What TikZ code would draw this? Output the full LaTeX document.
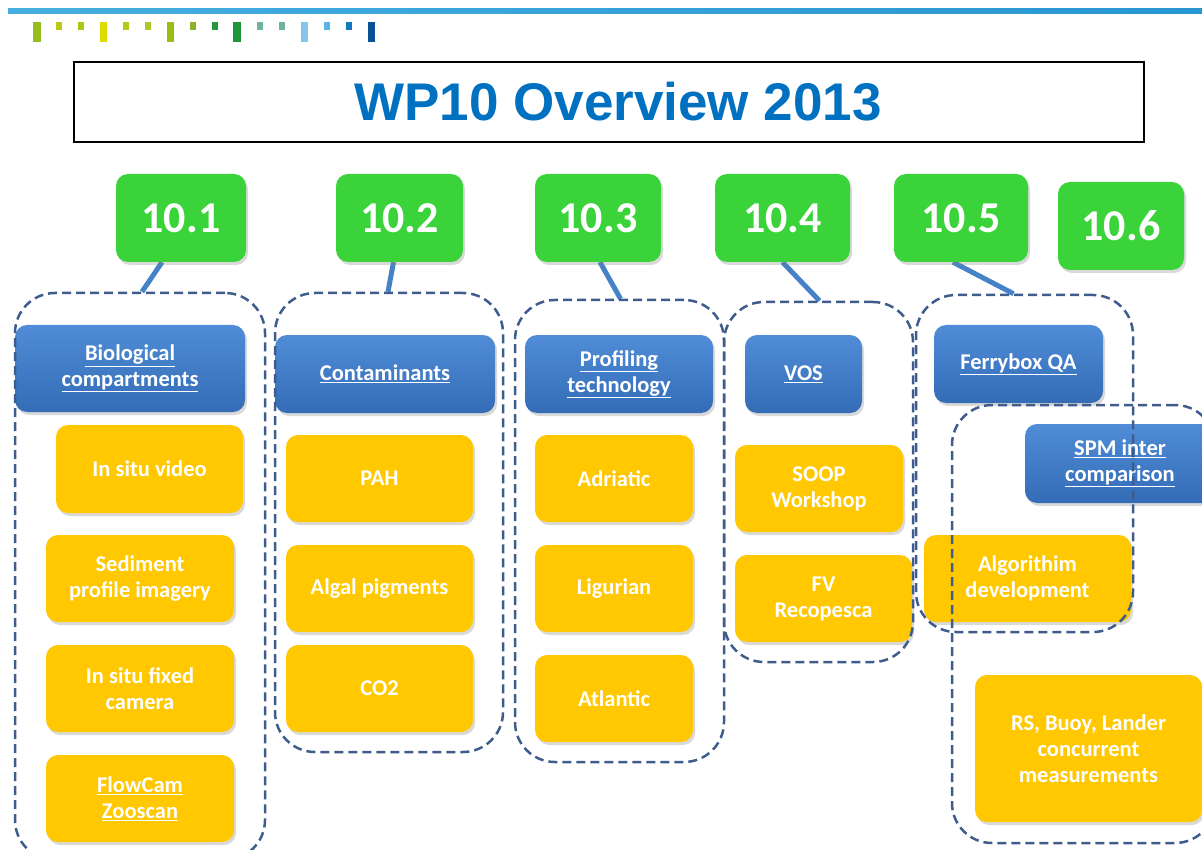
\documentclass[tikz,border=0pt]{standalone}
\usepackage{fontspec}
\setmainfont{Carlito}
\newfontfamily\titlefont{Liberation Sans}
\usetikzlibrary{shadows,backgrounds}

\definecolor{wpgreen}{RGB}{58,212,58}
\definecolor{wpblueT}{RGB}{80,140,215}
\definecolor{wpblueB}{RGB}{52,108,182}
\definecolor{wpyellow}{RGB}{255,200,0}
\definecolor{wpdash}{RGB}{62,92,140}
\definecolor{wplink}{RGB}{70,130,200}
\definecolor{wptitle}{RGB}{0,112,192}

\newcommand{\ul}[1]{\underline{#1}}

\tikzset{
  box/.style={rounded corners=12pt, inner sep=0pt, align=center, text=white,
    font=\bfseries\fontsize{22.5}{26}\selectfont,
    drop shadow={opacity=0.3, shadow xshift=2pt, shadow yshift=-3pt}},
  greenbox/.style={box, fill=wpgreen, minimum width=130pt, minimum height=88pt,
    font=\bfseries\fontsize{44}{44}\selectfont},
  bluebox/.style={box, top color=wpblueT, bottom color=wpblueB, minimum height=80pt},
  yellowbox/.style={box, fill=wpyellow, minimum height=88pt},
  grp/.style={draw=wpdash, line width=2.5pt, dash pattern=on 9pt off 5pt,
    rounded corners=40pt, inner sep=0pt},
  link/.style={draw=wplink, line width=5pt},
}

\begin{document}
\begin{tikzpicture}[x=1pt, y=-1pt]
    \useasboundingbox (0,0) rectangle (1202,850);

    % Header stripe and blocks
    \shade[left color={rgb,255:red,70;green,175;blue,225}, right color={rgb,255:red,40;green,150;blue,210}]
      (8,9) rectangle (1202,14);
    \foreach \xa/\xb/\yb/\r/\g/\b in {
      33/41/42/150/190/30, 56/62/30/190/200/20, 78/84/30/170/200/20,
      100/107/42/220/220/0, 123/129/30/180/200/30, 145/151/30/170/200/40,
      167/174/42/150/190/20, 190/196/30/140/180/40, 212/218/30/40/150/60,
      233/241/42/30/150/60, 257/263/30/110/180/150, 279/285/30/110/180/150,
      301/308/42/130/200/230, 324/330/30/90/180/230, 346/352/30/20/120/190,
      368/375/42/10/80/150}
      \fill[fill={rgb,255:red,\r;green,\g;blue,\b}] (\xa,22) rectangle (\xb,\yb);

    % Title
    \node[draw=black, line width=2pt, minimum width=1070pt, minimum height=80pt, inner sep=0pt,
      text=wptitle, font=\titlefont\bfseries\fontsize{53}{53}\selectfont] (title) at (609,102) {\hspace{18pt}WP10 Overview 2013};

    % Work package numbers
    \node[greenbox] (n101) at (181,218) {10.1};
    \node[greenbox, minimum width=127pt] (n102) at (399.5,218) {10.2};
    \node[greenbox, minimum width=126pt] (n103) at (598,218) {10.3};
    \node[greenbox, minimum width=135pt] (n104) at (782.5,218) {10.4};
    \node[greenbox, minimum width=134pt] (n105) at (961,218) {10.5};
    \node[greenbox, minimum width=126pt] (n106) at (1121,226) {10.6};

    % Task headers
    \node[bluebox, minimum width=230pt, minimum height=87pt] (bio) at (130,368.5) {\ul{Biological}\\\ul{compartments}};
    \node[bluebox, minimum width=220pt, minimum height=78pt] (cont) at (385,374) {\ul{Contaminants}};
    \node[bluebox, minimum width=188pt, minimum height=78pt] (prof) at (619,374) {\ul{Profiling}\\\ul{technology}};
    \node[bluebox, minimum width=117pt, minimum height=78pt] (vos) at (803.5,374) {\ul{VOS}};
    \node[bluebox, minimum width=169pt, minimum height=78pt] (ferry) at (1018.5,364) {\ul{Ferrybox QA}};
    \node[bluebox, minimum width=190pt, minimum height=79pt] (spm) at (1120,463.5) {\ul{SPM inter}\\\ul{comparison}};

    % Activities
    \node[yellowbox, minimum width=187pt] (video) at (149.5,469) {In situ video};
    \node[yellowbox, minimum width=188pt, minimum height=87pt] (sedi) at (140,578.5) {Sediment\\profile imagery};
    \node[yellowbox, minimum width=188pt, minimum height=87pt] (camera) at (140,688.5) {In situ fixed\\camera};
    \node[yellowbox, minimum width=188pt, minimum height=87pt] (flow) at (140,798.5) {\ul{FlowCam}\\\ul{Zooscan}};
    \node[yellowbox, minimum width=187pt, minimum height=87pt] (pah) at (379.5,478.5) {PAH};
    \node[yellowbox, minimum width=187pt, minimum height=87pt] (algal) at (379.5,588.5) {Algal pigments};
    \node[yellowbox, minimum width=187pt, minimum height=87pt] (co2) at (379.5,688.5) {CO2};
    \node[yellowbox, minimum width=158pt, minimum height=87pt] (adri) at (614,478.5) {Adriatic};
    \node[yellowbox, minimum width=158pt, minimum height=87pt] (ligu) at (614,588.5) {Ligurian};
    \node[yellowbox, minimum width=158pt, minimum height=87pt] (atla) at (614,698.5) {Atlantic};
    \node[yellowbox, minimum width=168pt, minimum height=87pt] (soop) at (819,488.5) {SOOP\\Workshop};
    \node[yellowbox, minimum width=177pt, minimum height=87pt] (recop) at (823.5,598.5) {FV\\Recopesca};
    \node[yellowbox, minimum width=207pt, minimum height=87pt] (algo) at (1027.5,578.5) {Algorithim\\development};
    \node[yellowbox, minimum width=227pt, minimum height=147pt] (rsbuoy) at (1088.5,748.5) {RS, Buoy, Lander\\concurrent\\measurements};

    % Dashed groups
    \node[grp, minimum width=250pt, minimum height=567pt] (g1) at (140,576.5) {};
    \node[grp, minimum width=228pt, minimum height=459pt] (g2) at (389,522.5) {};
    \node[grp, minimum width=209pt, minimum height=462pt] (g3) at (619.5,531) {};
    \node[grp, minimum width=189pt, minimum height=360pt] (g4) at (818.5,482) {};
    \node[grp, minimum width=217pt, minimum height=337pt] (g5) at (1024.5,463.5) {};
    \node[grp, minimum width=263pt, minimum height=438pt] (g6) at (1083.5,624) {};

    % Links from numbers to groups
    \begin{scope}[on background layer]
    \draw[link] ([xshift=-19pt]n101.south) -- ([xshift=2pt]g1.north);
    \draw[link] ([xshift=-6pt]n102.south) -- ([xshift=-1pt]g2.north);
    \draw[link] ([xshift=2pt]n103.south) -- ([xshift=1pt]g3.north);
    \draw[link] (n104.south) -- ([xshift=1pt]g4.north);
    \draw[link] ([xshift=-8pt]n105.south) -- ([xshift=-11pt]g5.north);
    \end{scope}
\end{tikzpicture}
\end{document}
